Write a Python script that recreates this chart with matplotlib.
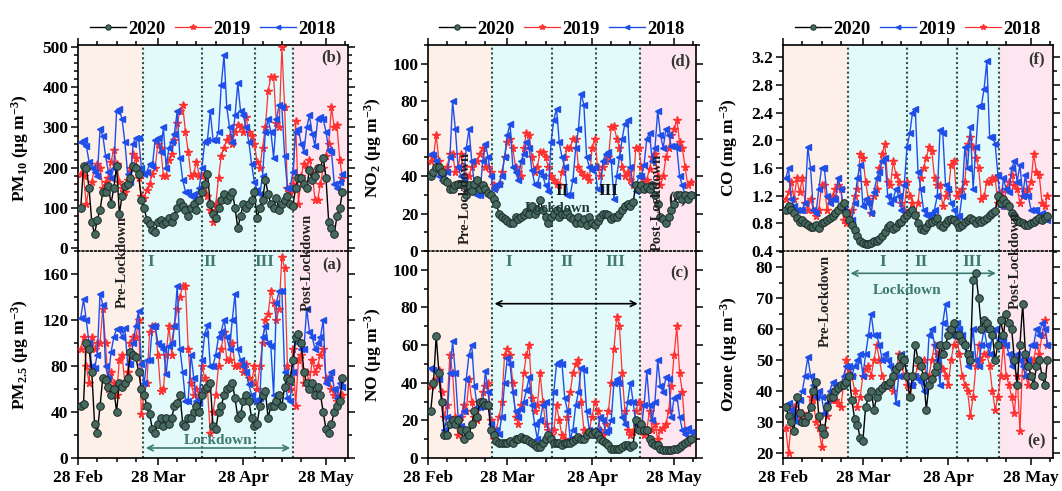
import numpy as np
import matplotlib
matplotlib.use('Agg')
import matplotlib.pyplot as plt
from matplotlib.ticker import MultipleLocator, FormatStrFormatter
from matplotlib.lines import Line2D

plt.rcParams['font.family'] = 'Liberation Serif'
plt.rcParams['font.weight'] = 'bold'
plt.rcParams['axes.labelweight'] = 'bold'
plt.rcParams['mathtext.fontset'] = 'custom'
plt.rcParams['mathtext.rm'] = 'Liberation Serif:bold'
plt.rcParams['mathtext.it'] = 'Liberation Serif:bold'
plt.rcParams['mathtext.bf'] = 'Liberation Serif:bold'
plt.rcParams['mathtext.default'] = 'rm'

# days counted from 28 Feb 2020 (day 1 = 29 Feb)
days = np.arange(1, 97)
tick_days = [0, 29, 60, 90]
tick_labels = ['28 Feb', '28 Mar', '28 Apr', '28 May']

pm10_2020 = [100, 205, 200, 150, 65, 35, 70, 95, 140, 140,
             155, 110, 150, 205, 85, 130, 155, 160, 175, 205,
             200, 185, 120, 100, 70, 60, 45, 40, 65, 70,
             60, 65, 75, 65, 80, 100, 115, 105, 95, 80,
             100, 110, 95, 120, 140, 160, 185, 110, 85, 75,
             100, 120, 135, 120, 130, 140, 100, 50, 80, 110,
             100, 110, 120, 140, 75, 100, 120, 170, 135, 110,
             100, 125, 95, 110, 120, 130, 110, 105, 150, 175,
             175, 160, 150, 195, 170, 180, 200, 200, 225, 175,
             65, 50, 35, 80, 100, 140]
pm10_2019 = [185, 180, 110, 150, 165, 200, 210, 200, 150, 165,
             175, 215, 245, 210, 165, 150, 140, 170, 200, 235,
             225, 175, 130, 125, 145, 160, 185, 200, 260, 250,
             180, 180, 220, 235, 270, 310, 340, 355, 290, 240,
             180, 185, 215, 180, 180, 185, 130, 95, 65, 110,
             175, 230, 250, 270, 280, 260, 290, 305, 300, 290,
             325, 290, 280, 260, 215, 200, 250, 300, 390, 425,
             425, 310, 300, 500, 350, 150, 140, 160, 315, 110,
             180, 210, 200, 220, 190, 120, 120, 160, 200, 230,
             260, 350, 300, 305, 220, 175]
pm10_2018 = [265, 268, 255, 215, 200, 190, 180, 295, 280, 230,
             190, 175, 200, 340, 345, 320, 265, 185, 165, 260,
             275, 275, 200, 185, 190, 210, 205, 270, 275, 240,
             300, 200, 250, 265, 285, 340, 225, 170, 140, 140,
             130, 135, 120, 150, 200, 265, 270, 340, 270, 270,
             290, 405, 480, 350, 300, 265, 330, 410, 340, 330,
             300, 265, 210, 165, 145, 135, 180, 290, 320, 290,
             225, 320, 355, 350, 230, 150, 150, 190, 290, 295,
             260, 240, 300, 330, 285, 255, 320, 325, 320, 290,
             245, 240, 160, 150, 165, 185]

pm25_2020 = [45, 47, 100, 95, 75, 30, 22, 45, 70, 68,
             62, 55, 60, 40, 65, 62, 65, 70, 92, 90,
             88, 75, 60, 55, 45, 38, 25, 22, 30, 35,
             28, 35, 30, 35, 45, 48, 55, 30, 28, 35,
             35, 40, 45, 40, 55, 60, 62, 65, 28, 25,
             40, 45, 55, 60, 62, 65, 52, 35, 38, 50,
             55, 50, 35, 28, 30, 45, 55, 58, 35, 45,
             45, 50, 55, 45, 62, 70, 68, 85, 105, 108,
             100, 75, 65, 60, 65, 55, 62, 55, 40, 25,
             22, 30, 40, 45, 50, 70]
pm25_2019 = [95, 105, 80, 65, 105, 95, 100, 100, 130, 100,
             60, 75, 65, 55, 85, 90, 65, 75, 100, 105,
             105, 120, 38, 55, 65, 110, 115, 115, 90, 58,
             60, 90, 115, 90, 115, 130, 140, 150, 150, 95,
             65, 55, 60, 55, 80, 70, 60, 22, 40, 55,
             80, 95, 110, 85, 85, 100, 80, 80, 82, 75,
             82, 70, 65, 80, 60, 80, 100, 120, 125, 145,
             135, 120, 130, 175, 165, 80, 60, 95, 45, 85,
             90, 65, 75, 65, 85, 75, 80, 90, 95, 70,
             70, 60, 55, 50, 55, 55]
pm25_2018 = [122, 138, 120, 100, 80, 78, 90, 143, 133, 80,
             70, 92, 105, 112, 112, 105, 113, 82, 82, 100,
             115, 128, 82, 65, 85, 85, 115, 115, 100, 97,
             95, 73, 97, 100, 115, 150, 95, 75, 50, 50,
             90, 70, 50, 48, 85, 108, 116, 80, 80, 90,
             105, 110, 120, 105, 95, 120, 143, 95, 85, 80,
             75, 64, 55, 50, 50, 52, 105, 115, 100, 97,
             55, 135, 145, 145, 75, 52, 50, 75, 105, 100,
             95, 95, 130, 110, 105, 95, 100, 105, 120, 65,
             70, 75, 60, 52, 65, 62]

no2_2020 = [40, 42, 45, 45, 42, 38, 37, 33, 33, 35,
            36, 36, 35, 30, 35, 32, 36, 38, 33, 35,
            33, 31, 30, 28, 25, 20, 18, 17, 16, 15,
            15, 18, 17, 18, 19, 21, 20, 24, 20, 22,
            27, 22, 18, 15, 18, 20, 22, 18, 20, 20,
            21, 18, 17, 15, 18, 15, 17, 14, 18, 15,
            14, 16, 18, 20, 20, 19, 17, 18, 18, 20,
            22, 24, 25, 24, 26, 35, 33, 35, 33, 34,
            33, 35, 30, 25, 18, 17, 15, 18, 22, 25,
            30, 30, 28, 30, 28, 30]
no2_2019 = [48, 50, 62, 48, 43, 42, 45, 52, 52, 42,
            45, 52, 45, 40, 40, 45, 47, 48, 52, 55,
            45, 45, 42, 35, 34, 36, 42, 50, 58, 60,
            55, 45, 42, 40, 55, 63, 62, 50, 42, 45,
            53, 53, 50, 45, 40, 38, 36, 35, 42, 50,
            55, 55, 60, 60, 45, 42, 40, 40, 38, 55,
            60, 45, 40, 45, 48, 50, 66, 67, 60, 55,
            45, 40, 42, 38, 35, 55, 55, 45, 38, 38,
            44, 50, 52, 40, 35, 40, 50, 55, 62, 65,
            70, 58, 55, 45, 35, 37]
no2_2018 = [52, 51, 48, 40, 38, 38, 42, 50, 80, 65,
            45, 40, 38, 55, 65, 48, 35, 30, 30, 48,
            57, 50, 40, 33, 35, 36, 40, 50, 62, 68,
            45, 42, 38, 48, 52, 58, 55, 43, 36, 35,
            42, 40, 35, 32, 58, 70, 76, 58, 50, 45,
            30, 30, 38, 55, 65, 84, 78, 50, 45, 43,
            45, 33, 33, 48, 52, 53, 48, 28, 40, 50,
            60, 68, 70, 45, 35, 32, 40, 40, 46, 60,
            63, 48, 55, 75, 62, 55, 65, 62, 56, 56,
            55, 40, 35, 30, 30, 30]

no_2020 = [25, 40, 65, 45, 30, 12, 12, 18, 20, 18,
           20, 15, 10, 15, 12, 18, 25, 22, 30, 30,
           28, 28, 15, 12, 9, 8, 8, 8, 8, 9,
           8, 10, 10, 11, 10, 10, 9, 8, 7, 6,
           6, 8, 10, 12, 10, 8, 8, 8, 7, 8,
           8, 8, 9, 10, 11, 10, 10, 12, 14, 13,
           14, 12, 10, 9, 8, 7, 5, 5, 5, 5,
           6, 7, 7, 6, 7, 20, 15, 18, 15, 15,
           10, 8, 7, 7, 5, 4, 4, 4, 4, 5,
           5, 6, 7, 8, 9, 10]
no_2019 = [38, 39, 42, 47, 35, 22, 28, 55, 45, 22,
           12, 22, 28, 25, 42, 30, 22, 20, 28, 35,
           38, 40, 20, 10, 15, 22, 30, 55, 58, 55,
           40, 22, 18, 28, 45, 55, 60, 32, 25, 28,
           45, 30, 18, 15, 12, 15, 28, 20, 12, 10,
           22, 35, 45, 50, 52, 30, 15, 12, 15, 22,
           30, 25, 15, 12, 18, 25, 40, 58, 75, 70,
           45, 25, 15, 12, 14, 25, 30, 28, 12, 15,
           25, 15, 18, 10, 15, 16, 18, 25, 38, 55,
           70, 45, 35, 15, 8, 10]
no_2018 = [48, 47, 46, 42, 30, 15, 22, 45, 62, 45,
           22, 17, 25, 42, 55, 60, 38, 27, 27, 30,
           46, 35, 18, 14, 15, 13, 22, 40, 53, 50,
           35, 25, 22, 26, 30, 36, 43, 28, 18, 10,
           20, 28, 30, 12, 10, 35, 50, 51, 50, 32,
           25, 10, 15, 28, 35, 48, 47, 25, 15, 12,
           12, 15, 22, 20, 14, 15, 20, 40, 42, 40,
           22, 18, 30, 40, 30, 18, 15, 15, 28, 46,
           28, 20, 30, 52, 38, 35, 43, 42, 22, 32,
           33, 22, 15, 13, 16, 14]

co_2020 = [1.0, 1.05, 1.0, 0.95, 0.88, 0.82, 0.85, 0.8, 0.78, 0.75,
           0.75, 0.78, 0.73, 0.8, 0.82, 0.85, 0.88, 0.9, 0.95, 1.0,
           1.05, 1.1, 0.95, 0.85, 0.78, 0.7, 0.62, 0.55, 0.52, 0.5,
           0.5, 0.52, 0.55, 0.55, 0.58, 0.62, 0.68, 0.75, 0.78, 0.72,
           0.75, 0.8, 0.82, 0.88, 0.92, 0.97, 1.0, 0.92, 0.8, 0.72,
           0.7, 0.75, 0.8, 0.82, 0.85, 0.88, 0.78, 0.75, 0.8, 0.85,
           0.87, 0.85, 0.8, 0.75, 0.78, 0.82, 0.85, 0.88, 0.85, 0.8,
           0.85, 0.82, 0.85, 0.88, 0.92, 0.95, 0.98, 1.2, 1.1, 1.15,
           1.1, 1.05, 0.95, 0.9, 0.85, 0.82, 0.8, 0.78, 0.78, 0.8,
           0.82, 0.85, 0.88, 0.85, 0.88, 0.9]
co_2019 = [1.45, 1.6, 1.15, 1.05, 1.0, 1.0, 1.0, 1.1, 1.9, 1.6,
           1.0, 0.95, 1.3, 1.6, 1.6, 1.2, 1.1, 1.15, 1.15, 1.45,
           1.3, 1.0, 0.95, 0.85, 0.85, 1.1, 1.45, 1.65, 1.05, 1.15,
           1.1, 0.95, 1.25, 1.45, 1.55, 1.7, 1.75, 1.2, 1.1, 1.15,
           1.3, 1.2, 1.0, 1.35, 1.9, 2.1, 2.4, 2.45, 1.55, 1.3,
           1.0, 0.92, 0.9, 0.95, 1.0, 1.2, 2.15, 2.1, 1.35, 1.3,
           1.1, 1.0, 0.9, 0.9, 1.2, 1.9, 1.6, 2.2, 1.3, 1.9,
           2.5, 2.5, 2.75, 3.15, 2.05, 2.05, 1.95, 1.5, 1.05, 1.45,
           1.3, 1.25, 1.6, 1.7, 1.4, 1.65, 1.2, 1.5, 1.2, 1.0,
           1.0, 1.0, 0.9, 0.95, 0.9, 0.85]
co_2018 = [1.15, 1.25, 1.4, 1.15, 1.45, 1.25, 1.45, 1.1, 1.0, 1.15,
           1.0, 0.9, 1.0, 1.35, 1.35, 1.0, 1.15, 1.2, 1.3, 1.35,
           1.3, 0.85, 0.8, 0.95, 1.0, 1.2, 1.3, 1.8, 1.75, 1.4,
           1.15, 0.95, 1.2, 1.3, 1.6, 1.8, 1.95, 1.4, 1.35, 1.7,
           1.5, 1.4, 1.1, 1.0, 1.4, 1.2, 1.1, 0.95, 1.1, 1.45,
           1.6, 1.75, 1.9, 1.85, 1.45, 1.35, 1.35, 1.05, 1.2, 1.25,
           1.65, 1.7, 1.2, 1.25, 1.3, 1.4, 1.95, 2.05, 1.9, 1.75,
           1.6, 1.15, 1.2, 1.4, 1.4, 1.45, 1.45, 1.1, 1.25, 1.05,
           1.3, 1.4, 1.5, 1.35, 1.3, 1.1, 1.2, 1.25, 1.3, 1.4,
           1.8, 1.55, 1.5, 1.1, 1.05, 1.2]

o3_2020 = [35, 32, 30, 27, 38, 33, 30, 30, 32, 35,
           40, 43, 32, 28, 26, 35, 38, 38, 40, 41,
           42, 42, 43, 45, 37, 31, 29, 25, 24, 35,
           38, 40, 34, 38, 40, 41, 42, 42, 43, 45,
           47, 48, 51, 50, 45, 38, 45, 55, 50, 48,
           45, 34, 42, 44, 46, 48, 55, 52, 55, 58,
           60, 62, 58, 58, 56, 55, 52, 50, 76, 78,
           70, 60, 63, 62, 60, 58, 50, 55, 63, 58,
           65, 62, 60, 50, 42, 55, 68, 52, 48, 45,
           42, 48, 50, 45, 42, 50]
o3_2019 = [35, 36, 34, 32, 30, 37, 40, 45, 51, 45,
           42, 38, 40, 38, 33, 36, 40, 43, 42, 42,
           42, 45, 48, 48, 45, 48, 50, 52, 45, 52,
           58, 65, 58, 58, 55, 50, 52, 50, 48, 45,
           36, 45, 52, 50, 45, 42, 42, 45, 44, 43,
           40, 42, 58, 60, 55, 50, 42, 62, 68, 60,
           58, 58, 62, 60, 58, 55, 48, 52, 60, 50,
           48, 55, 60, 55, 52, 58, 60, 55, 57, 56,
           55, 52, 48, 50, 52, 50, 48, 45, 50, 55,
           55, 60, 58, 62, 60, 55]
o3_2018 = [28, 20, 30, 35, 33, 32, 33, 30, 32, 38,
           37, 30, 28, 22, 28, 32, 38, 37, 37, 36,
           35, 42, 50, 47, 45, 40, 35, 38, 45, 47,
           48, 45, 50, 55, 50, 45, 42, 42, 42, 40,
           45, 52, 48, 45, 42, 38, 42, 45, 48, 48,
           50, 45, 45, 50, 55, 52, 52, 47, 45, 42,
           50, 55, 58, 52, 45, 42, 40, 32, 38, 48,
           55, 50, 52, 52, 48, 40, 34, 38, 45, 55,
           45, 42, 38, 33, 45, 27, 50, 45, 42, 50,
           50, 55, 52, 58, 63, 55]

# styles
black_st = dict(color='k', lw=1.0, marker='o', ms=5.5, mfc='#45685f', mec='#1b2b27', mew=0.7, zorder=5)
red_st = dict(color='#ff3232', lw=0.9, marker='*', ms=5.5, mec='#ff3232', zorder=3)
blue_st = dict(color='#1f4fe8', lw=1.0, marker='<', ms=4.5, mec='#1f4fe8', zorder=4)

pre_c, lock_c, post_c = '#fdf0e9', '#e2fafa', '#fde6ef'
teal = '#3f7a6d'
xmax = 98

fig = plt.figure(figsize=(10.62, 4.91), dpi=100)


def px_ax(x0, x1, y0, y1):
    return fig.add_axes([x0 / 1062, 1 - y1 / 491, (x1 - x0) / 1062, (y1 - y0) / 491])


def setup(ax, ylim, major, minor, ylabel, phases, top, labx, fmt=None):
    ax.axvspan(0, phases[0], color=pre_c, lw=0, zorder=0)
    ax.axvspan(phases[0], phases[3], color=lock_c, lw=0, zorder=0)
    ax.axvspan(phases[3], xmax, color=post_c, lw=0, zorder=0)
    for p in phases:
        ax.axvline(p, color='#2a5249', ls=(0, (1, 1.3)), lw=1.5, zorder=1)
    ax.set_xlim(0, xmax)
    ax.set_ylim(*ylim)
    ax.yaxis.set_major_locator(MultipleLocator(major))
    ax.yaxis.set_minor_locator(MultipleLocator(minor))
    if fmt:
        ax.yaxis.set_major_formatter(FormatStrFormatter(fmt))
    ax.set_xticks(tick_days)
    ax.set_xticks([7, 14, 21, 36, 43, 50, 67, 74, 81, 97], minor=True)
    ax.tick_params(which='both', direction='out', labelsize=12.5, right=True, width=1.1, pad=2)
    ax.tick_params(which='major', length=5)
    ax.tick_params(which='minor', length=3)
    for s in ax.spines.values():
        s.set_linewidth(1.2)
    if top:
        ax.tick_params(axis='x', which='both', top=True, bottom=False, labelbottom=False)
        ax.spines['bottom'].set_visible(False)
    else:
        ax.set_xticklabels(tick_labels)
        ax.tick_params(axis='x', which='both', top=False, bottom=True, pad=4)
        ax.spines['top'].set_linestyle((0, (1, 1.5)))
    ax.set_ylabel(ylabel, fontsize=12.5)
    ax.yaxis.set_label_coords(labx, 0.5)


def draw(ax, series):
    for vals, st in series:
        ax.plot(days, vals, **st)


phases1 = [23.6, 45.0, 64.2, 78.0]
phases2 = [23.3, 45.2, 61.3, 77.7]
phases3 = [23.5, 44.9, 63.0, 78.3]

unit = ' (µg m$^{-3}$)'

# column 1
a1 = px_ax(78, 348, 45, 251)
b1 = px_ax(78, 348, 251, 458)
setup(a1, (-7, 505), 100, 20, 'PM$_{10}$' + unit, phases1, True, -0.175)
setup(b1, (0, 180), 40, 20, 'PM$_{2.5}$' + unit, phases1, False, -0.175)
draw(a1, [(pm10_2019, red_st), (pm10_2018, blue_st), (pm10_2020, black_st)])
draw(b1, [(pm25_2019, red_st), (pm25_2018, blue_st), (pm25_2020, black_st)])

# column 2
a2 = px_ax(428, 696, 45, 251)
b2 = px_ax(428, 696, 251, 458)
setup(a2, (0, 110), 20, 10, 'NO$_2$' + unit, phases2, True, -0.165)
setup(b2, (0, 110), 20, 10, 'NO' + unit, phases2, False, -0.165)
draw(a2, [(no2_2019, red_st), (no2_2018, blue_st), (no2_2020, black_st)])
draw(b2, [(no_2019, red_st), (no_2018, blue_st), (no_2020, black_st)])

# column 3 (2019 blue, 2018 red)
a3 = px_ax(783, 1053, 45, 251)
b3 = px_ax(783, 1053, 251, 458)
setup(a3, (0.4, 3.38), 0.4, 0.2, 'CO (mg m$^{-3}$)', phases3, True, -0.158, '%.1f')
setup(b3, (18.4, 85.2), 10, 5, 'Ozone' + unit, phases3, False, -0.158)
draw(a3, [(co_2018, red_st), (co_2019, blue_st), (co_2020, black_st)])
draw(b3, [(o3_2018, red_st), (o3_2019, blue_st), (o3_2020, black_st)])


def handle(st):
    return Line2D([], [], **st)


for ax, sts in [(a1, (black_st, red_st, blue_st)), (a2, (black_st, red_st, blue_st)),
                (a3, (black_st, blue_st, red_st))]:
    ax.legend([handle(s) for s in sts], ['2020', '2019', '2018'], loc='lower center',
              bbox_to_anchor=(0.5, 1.0), ncol=3, frameon=False, handlelength=1.9,
              handletextpad=0.15, columnspacing=0.5, borderaxespad=0.0, markerscale=0.7,
              prop={'size': 13.5, 'weight': 'bold'})

# panel letters
for ax, lab, y in [(a1, '(b)', 0.94), (b1, '(a)', 0.93), (a2, '(d)', 0.92),
                   (b2, '(c)', 0.89), (a3, '(f)', 0.93), (b3, '(e)', 0.08)]:
    ax.text(0.94, y, lab, transform=ax.transAxes, ha='center', va='center',
            fontsize=12, color='#333333')
a2.text(0.93, 0.25, '(c)', transform=a2.transAxes, ha='center', va='center',
        fontsize=12, color='#222222', zorder=2)

# phase numerals
for ax, xs, c in [(b1, (0.27, 0.49, 0.69), teal), (b2, (0.30, 0.52, 0.70), teal),
                  (b3, (0.37, 0.51, 0.70), teal)]:
    for x, t in zip(xs, ('I', 'II', 'III')):
        ax.text(x, 0.945, t, transform=ax.transAxes, ha='center', va='center',
                fontsize=12.5, color=c)
for x, t in [(0.50, 'II'), (0.672, 'III')]:
    a2.text(x, 0.29, t, transform=a2.transAxes, ha='center', va='center',
            fontsize=12.5, color='#111111', zorder=6)
a2.text(0.485, 0.205, 'Lockdown', transform=a2.transAxes, ha='center', va='center',
        fontsize=10.5, color='#1d3b35', zorder=6)

# lockdown arrows
b1.annotate('', xy=(phases1[0], 8.7), xytext=(phases1[3], 8.7),
            arrowprops=dict(arrowstyle='<->', color=teal, lw=1.2))
b1.text(51, 15.5, 'Lockdown', ha='center', va='center', fontsize=11, color=teal)
b2.annotate('', xy=(phases2[0], 82), xytext=(phases2[3], 82),
            arrowprops=dict(arrowstyle='<->', color='k', lw=1.2))
b3.annotate('', xy=(phases3[0], 78), xytext=(phases3[3], 78),
            arrowprops=dict(arrowstyle='<->', color=teal, lw=1.2))
b3.text(45, 72.6, 'Lockdown', ha='center', va='center', fontsize=11, color=teal)

# vertical period labels
for x, y, t in [(122, 262, 'Pre-Lockdown'), (307, 262, 'Post-Lockdown'),
                (465, 198, 'Pre-Lockdown'), (657, 202, 'Post-Lockdown'),
                (825, 301, 'Pre-Lockdown'), (1015, 260, 'Post-Lockdown')]:
    fig.text(x / 1062, 1 - y / 491, t, rotation=90, ha='center', va='center',
             fontsize=10.5, color='#222222')

fig.savefig('out.png', dpi=100)
